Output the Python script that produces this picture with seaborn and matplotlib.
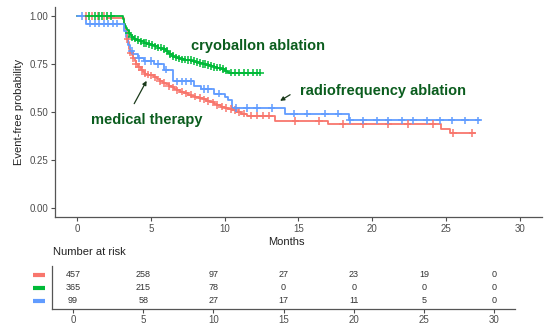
import numpy as np
import pandas as pd
import matplotlib
matplotlib.use("Agg")
import matplotlib.pyplot as plt
import matplotlib.transforms as mtransforms
import seaborn as sns

# step curves (time in months, event-free probability)
groups = ["medical therapy", "cryoballon ablation", "radiofrequency ablation"]
colors = ["#F8766D", "#00BA38", "#619CFF"]

med_time = [0, 2.0, 3.15, 3.2, 3.25, 3.3, 3.35, 3.4, 3.45, 3.5, 3.55, 3.6, 3.7, 3.8, 3.9, 4.0,
            4.15, 4.3, 4.45, 4.6, 4.8, 5.0, 5.2, 5.4, 5.6, 5.8, 6.0, 6.2, 6.4, 6.6, 6.8, 7.0,
            7.25, 7.5, 7.75, 8.0, 8.25, 8.5, 8.75, 9.0, 9.25, 9.5, 9.75, 10.0, 10.25, 10.5,
            10.8, 11.1, 11.5, 13.4, 17.0, 24.7, 25.3, 27.0]
med_surv = [1.0, 0.99, 0.975, 0.96, 0.94, 0.92, 0.90, 0.88, 0.865, 0.85, 0.83, 0.81, 0.795, 0.78, 0.765, 0.75,
            0.735, 0.72, 0.71, 0.70, 0.695, 0.69, 0.68, 0.67, 0.66, 0.65, 0.643, 0.635, 0.628, 0.62, 0.613, 0.605,
            0.597, 0.59, 0.585, 0.58, 0.572, 0.565, 0.557, 0.55, 0.542, 0.535, 0.527, 0.52, 0.515, 0.51,
            0.50, 0.49, 0.48, 0.452, 0.437, 0.41, 0.39, 0.39]

cryo_time = [0, 3.1, 3.15, 3.2, 3.25, 3.3, 3.4, 3.5, 3.6, 3.7, 3.85, 4.0, 4.25, 4.5, 4.75, 5.0,
             5.25, 5.5, 5.75, 6.0, 6.15, 6.3, 6.45, 6.6, 6.8, 7.0, 7.25, 7.5, 7.75, 8.0, 8.25,
             8.5, 8.75, 9.0, 9.25, 9.5, 9.75, 10.0, 10.15, 10.3, 12.4]
cryo_surv = [1.0, 0.985, 0.97, 0.96, 0.95, 0.94, 0.925, 0.91, 0.90, 0.89, 0.882, 0.875, 0.868, 0.86, 0.855, 0.85,
             0.843, 0.835, 0.828, 0.82, 0.81, 0.80, 0.792, 0.785, 0.78, 0.775, 0.772, 0.77, 0.765, 0.76, 0.755,
             0.75, 0.745, 0.74, 0.735, 0.73, 0.723, 0.715, 0.71, 0.705, 0.705]

rf_time = [0, 0.6, 3.2, 3.3, 3.45, 3.6, 3.8, 4.1, 4.5, 5.2, 5.9, 6.5, 7.9, 8.4, 9.3, 10.0,
           10.2, 10.5, 14.1, 18.4, 27.3]
rf_surv = [1.0, 0.96, 0.92, 0.89, 0.85, 0.82, 0.80, 0.78, 0.765, 0.75, 0.72, 0.66, 0.635, 0.62, 0.595, 0.575,
           0.56, 0.52, 0.49, 0.455, 0.455]

# censoring marks (+)
med_cens = [0.6, 1.0, 1.4, 1.8, 3.4, 3.6, 3.8, 4.0, 4.2, 4.4, 4.6, 4.8, 5.0, 5.3, 5.6, 5.9, 6.2,
            6.5, 6.8, 7.1, 7.4, 7.7, 8.0, 8.3, 8.6, 8.9, 9.2, 9.5, 9.8, 10.1, 10.4, 10.7, 11.0,
            11.3, 11.8, 12.2, 12.6, 13.0, 14.8, 16.4, 18.0, 19.4, 21.1, 22.4, 24.1, 25.5, 26.8]
cryo_cens = [0.8, 1.2, 1.5, 1.7, 2.0, 2.3, 3.5, 3.7, 3.9, 4.1, 4.3, 4.5, 4.7, 4.9, 5.1, 5.3,
             5.5, 5.7, 5.9, 6.1, 6.3, 6.5, 6.7, 6.9, 7.1, 7.3, 7.5, 7.7, 7.9, 8.1, 8.3, 8.5,
             8.7, 8.9, 9.1, 9.3, 9.5, 9.7, 9.9, 10.1, 10.4, 10.7, 11.0, 11.3, 11.6, 11.9, 12.2, 12.4]
rf_cens = [0.3, 0.9, 1.2, 1.5, 1.8, 2.1, 2.4, 2.7, 3.7, 4.2, 4.6, 5.0, 5.5, 6.0, 6.8, 7.1,
           7.4, 7.7, 8.6, 8.9, 9.6, 10.8, 11.5, 12.2, 13.2, 14.7, 15.6, 16.8, 17.7, 18.5,
           19.4, 20.3, 21.1, 22.0, 22.8, 23.7, 24.6, 25.4, 26.3, 27.2]

# number at risk table
risk_times = [0, 5, 10, 15, 20, 25, 30]
med_risk = [457, 258, 97, 27, 23, 19, 0]
cryo_risk = [365, 215, 78, 0, 0, 0, 0]
rf_risk = [99, 58, 27, 17, 11, 5, 0]

curves = [(med_time, med_surv, med_cens), (cryo_time, cryo_surv, cryo_cens), (rf_time, rf_surv, rf_cens)]
risks = [med_risk, cryo_risk, rf_risk]

rows, marks = [], []
for g, (t, s, c) in zip(groups, curves):
    rows.append(pd.DataFrame({"time": t, "surv": s, "group": g}))
    idx = np.searchsorted(t, c, side="right") - 1
    marks.append(pd.DataFrame({"time": c, "surv": np.array(s)[idx], "group": g}))
lines = pd.concat(rows, ignore_index=True)
cens = pd.concat(marks, ignore_index=True)

sns.set_theme(style="ticks")
plt.rcParams["font.family"] = ["Liberation Sans", "DejaVu Sans"]
pal = dict(zip(groups, colors))
grey = "#4D4D4D"

fig = plt.figure(figsize=(5.5, 3.28), dpi=100)
ax = fig.add_axes([0.1, 0.338, 0.885, 0.642])

sns.lineplot(data=lines, x="time", y="surv", hue="group", palette=pal, estimator=None,
             drawstyle="steps-post", linewidth=1.3, legend=False, ax=ax)
sns.scatterplot(data=cens, x="time", y="surv", hue="group", palette=pal, marker="+",
                s=28, linewidth=1.1, legend=False, ax=ax, zorder=3)

ax.set_xlim(-1.5, 31.5)
ax.set_ylim(-0.05, 1.05)
ax.set_xticks([0, 5, 10, 15, 20, 25, 30])
ax.set_yticks([0, 0.25, 0.5, 0.75, 1.0])
ax.set_yticklabels(["0.00", "0.25", "0.50", "0.75", "1.00"])
ax.set_xlabel("")
ax.set_ylabel("Event-free probability", fontsize=8, color="#222222", labelpad=4)
ax.tick_params(labelsize=7, colors=grey, length=3, width=0.8, pad=2)
for sp in ["left", "bottom"]:
    ax.spines[sp].set_color("#555555")
    ax.spines[sp].set_linewidth(0.9)
sns.despine(ax=ax)

txt = "#0B5D1E"
ax.text(7.7, 0.843, "cryoballon ablation", color=txt, fontsize=10.5, fontweight="bold", va="center")
ax.text(15.1, 0.607, "radiofrequency ablation", color=txt, fontsize=10.5, fontweight="bold", va="center")
ax.text(0.95, 0.455, "medical therapy", color=txt, fontsize=10.5, fontweight="bold", va="center")
ax.annotate("", xy=(4.8, 0.675), xytext=(3.78, 0.53),
            arrowprops=dict(arrowstyle="-|>", color="#1A3A1A", lw=0.9, mutation_scale=6))
ax.annotate("", xy=(13.6, 0.55), xytext=(14.6, 0.597),
            arrowprops=dict(arrowstyle="-|>", color="#1A3A1A", lw=0.9, mutation_scale=6))

fig.text(286 / 550, 1 - 242 / 328, "Months", fontsize=8, color="#222222", ha="center", va="center")
fig.text(53 / 550, 1 - 252 / 328, "Number at risk", fontsize=8, color="#222222", ha="left", va="center")

# risk table
tab = fig.add_axes([0.0945, 0.058, 0.842, 0.131])
ypos = [3, 2, 1]
for y, r, col in zip(ypos, risks, colors):
    for t, n in zip(risk_times, r):
        tab.text(t, y, str(n), fontsize=6.5, color="#333333", ha="center", va="center")
    trans = mtransforms.blended_transform_factory(tab.transAxes, tab.transData)
    tab.plot([-0.04, -0.015], [y, y], color=col, lw=3, transform=trans, clip_on=False,
             solid_capstyle="butt")
tab.set_xlim(-1.5, 31.5)
tab.set_ylim(0.385, 3.69)
tab.set_xticks(risk_times)
tab.set_yticks([])
tab.tick_params(labelsize=7, colors=grey, length=3, width=0.8, pad=1)
for sp in ["left", "bottom"]:
    tab.spines[sp].set_color("#555555")
    tab.spines[sp].set_linewidth(0.9)
sns.despine(ax=tab)

fig.savefig("out.png", dpi=100)
